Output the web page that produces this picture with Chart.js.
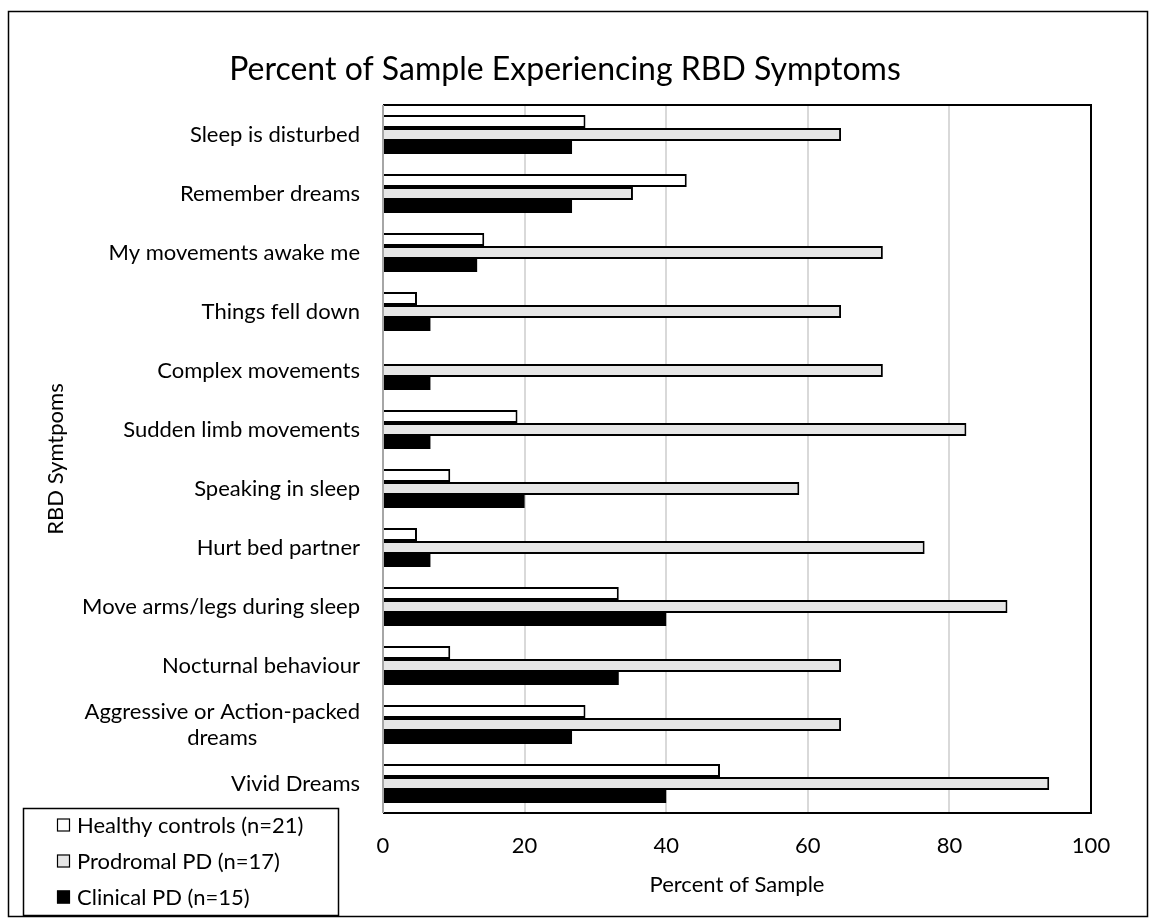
<!DOCTYPE html>
<html>
<head>
<meta charset="utf-8">
<script src="https://cdn.jsdelivr.net/npm/chart.js@4.4.0/dist/chart.umd.min.js"></script>
<style>
  html, body { margin: 0; padding: 0; background: #fff; }
  #wrap { position: relative; width: 1149px; height: 918px; }
</style>
</head>
<body>
<div id="wrap"><canvas id="c" width="1149" height="918"></canvas></div>
<script>
// Symptom categories, top to bottom
const categories = [
  'Sleep is disturbed',
  'Remember dreams',
  'My movements awake me',
  'Things fell down',
  'Complex movements',
  'Sudden limb movements',
  'Speaking in sleep',
  'Hurt bed partner',
  'Move arms/legs during sleep',
  'Nocturnal behaviour',
  ['Aggressive or Action-packed', 'dreams'],
  'Vivid Dreams'
];
const seriesNames = ['Healthy controls (n=21)', 'Prodromal PD (n=17)', 'Clinical PD (n=15)'];
// Percent of each group reporting the symptom
const healthy   = [28.6, 42.9, 14.3, 4.8, 0, 19.0, 9.5, 4.8, 33.3, 9.5, 28.6, 47.6];
const prodromal = [64.7, 35.3, 70.6, 64.7, 70.6, 82.4, 58.8, 76.5, 88.2, 64.7, 64.7, 94.1];
const clinical  = [26.7, 26.7, 13.3, 6.7, 6.7, 6.7, 20.0, 6.7, 40.0, 33.3, 26.7, 40.0];
const xTicks = [0, 20, 40, 60, 80, 100];

const FONT = 'Lato, "Open Sans", sans-serif';
const fills = ['#ffffff', '#e6e6e6', '#000000'];

const decor = {
  id: 'decor',
  beforeDraw(chart) {
    const ctx = chart.ctx;
    ctx.save();
    ctx.fillStyle = '#fff';
    ctx.fillRect(0, 0, chart.width, chart.height);
    ctx.restore();
  },
  afterDatasetsDraw(chart) {
    const { ctx, chartArea: a } = chart;
    ctx.save();
    ctx.lineWidth = 2;
    ctx.strokeStyle = '#000';
    ctx.beginPath();
    ctx.moveTo(a.left, a.top); ctx.lineTo(a.right, a.top);
    ctx.lineTo(a.right, a.bottom); ctx.lineTo(a.left, a.bottom);
    ctx.stroke();
    ctx.strokeStyle = '#a6a6a6';
    ctx.beginPath();
    ctx.moveTo(a.left, a.top); ctx.lineTo(a.left, a.bottom);
    ctx.stroke();
    ctx.restore();
  },
  afterDraw(chart) {
    const { ctx, chartArea: a } = chart;
    const yScale = chart.scales.y;
    ctx.save();
    // outer frame
    ctx.strokeStyle = '#000';
    ctx.lineWidth = 1.5;
    ctx.strokeRect(8.5, 11.5, 1139, 905);

    // category labels: right-aligned block, lines centred within it
    ctx.fillStyle = '#000';
    ctx.font = '22px ' + FONT;
    ctx.textBaseline = 'middle';
    ctx.textAlign = 'center';
    const right = a.left - 23;
    const lh = 26;
    categories.forEach((lab, i) => {
      const lines = Array.isArray(lab) ? lab : [lab];
      const w = Math.max(...lines.map(l => ctx.measureText(l).width));
      const cx = right - w / 2;
      const y0 = yScale.getPixelForValue(i) - (lines.length - 1) * lh / 2;
      lines.forEach((l, k) => ctx.fillText(l, cx, y0 + k * lh));
    });

    // legend box
    ctx.lineWidth = 1.5;
    ctx.strokeRect(23.5, 808.5, 315, 107);
    ctx.textAlign = 'left';
    const ys = [825, 861, 897];
    chart.data.datasets.forEach((ds, i) => {
      ctx.fillStyle = ds.backgroundColor;
      ctx.fillRect(57, ys[i] - 6.5, 13, 13);
      ctx.strokeStyle = '#000';
      ctx.lineWidth = 1.2;
      ctx.strokeRect(57.5, ys[i] - 6, 12, 12);
      ctx.fillStyle = '#000';
      ctx.fillText(ds.label, 77, ys[i] + 1);
    });
    ctx.restore();
  }
};

const mkSet = (i, data) => ({
  label: seriesNames[i],
  data: data,
  backgroundColor: fills[i],
  borderColor: '#000',
  borderWidth: i === 2 ? 0 : 2,
  categoryPercentage: 0.66,
  barPercentage: 1.0
});

new Chart(document.getElementById('c'), {
  type: 'bar',
  data: {
    labels: categories,
    datasets: [mkSet(0, healthy), mkSet(1, prodromal), mkSet(2, clinical)]
  },
  options: {
    indexAxis: 'y',
    responsive: false,
    animation: false,
    devicePixelRatio: 1,
    layout: { padding: { left: 39, right: 58, top: 12, bottom: 20 } },
    plugins: {
      legend: { display: false },
      tooltip: { enabled: false },
      title: {
        display: true,
        text: 'Percent of Sample Experiencing RBD Symptoms',
        color: '#000',
        font: { family: FONT, size: 32, weight: 'normal', lineHeight: 1.2 },
        padding: { top: 38, bottom: 16.6 }
      }
    },
    scales: {
      x: {
        min: 0, max: 100,
        afterBuildTicks(s) { s.ticks = xTicks.map(v => ({ value: v })); },
        afterFit(s) { s.height = 85; },
        ticks: { color: '#000', font: { family: FONT, size: 22 }, padding: 20 },
        grid: {
          drawTicks: false,
          lineWidth: 2,
          color: c => (c.tick && (c.tick.value === 0 || c.tick.value === 100)) ? 'rgba(0,0,0,0)' : '#d9d9d9'
        },
        border: { display: false },
        title: {
          display: true, text: 'Percent of Sample', color: '#000',
          font: { family: FONT, size: 22 }, padding: { top: 0, bottom: 0 }
        }
      },
      y: {
        afterFit(s) { s.width = 344; },
        ticks: { display: false },
        grid: { display: false },
        border: { display: false },
        title: {
          display: true, text: 'RBD Symtpoms', color: '#000',
          font: { family: FONT, size: 22 }, padding: { top: 4, bottom: 0 }
        }
      }
    }
  },
  plugins: [decor]
});
</script>
</body>
</html>
